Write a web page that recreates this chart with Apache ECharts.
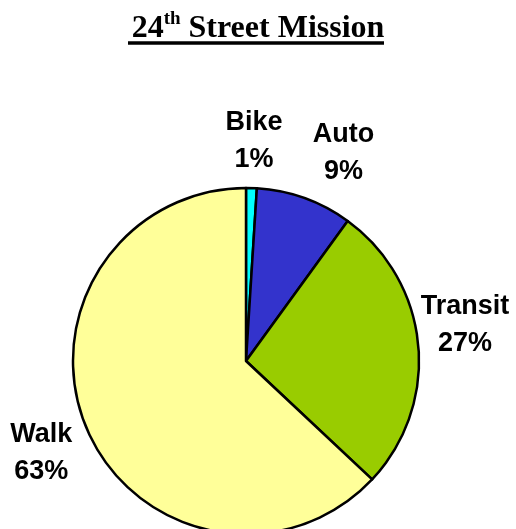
<!DOCTYPE html>
<html>
<head>
<meta charset="utf-8">
<script src="https://cdn.jsdelivr.net/npm/echarts@6/dist/echarts.min.js"></script>
<style>
  html, body { margin: 0; padding: 0; background: #fff; }
  #main { width: 516px; height: 529px; }
</style>
</head>
<body>
<div id="main"></div>
<script>
// mode share data
var modes = ['Bike', 'Auto', 'Transit', 'Walk'];
var shares = [1, 9, 27, 63];
var colors = ['#00FFFF', '#3333CC', '#99CC00', '#FFFF99'];

var chart = echarts.init(document.getElementById('main'));

var pieData = modes.map(function (m, i) {
  return { name: m, value: shares[i], itemStyle: { color: colors[i] } };
});

var option = {
  backgroundColor: '#fff',
  animation: false,
  title: {
    left: 'center',
    top: 5,
    text: '{a|24}{s|th}{a| Street Mission}',
    textStyle: {
      rich: {
        a: { fontFamily: 'Liberation Serif', fontWeight: 'bold', fontSize: 32, lineHeight: 38, color: '#000' },
        s: { fontFamily: 'Liberation Serif', fontWeight: 'bold', fontSize: 19, lineHeight: 22, verticalAlign: 'top', color: '#000' }
      }
    }
  },
  graphic: [
    {
      type: 'line',
      shape: { x1: 128, y1: 43, x2: 384, y2: 43 },
      style: { stroke: '#000', lineWidth: 3.5 }
    }
  ],
  series: [
    {
      // actual pie
      type: 'pie',
      center: [246, 361],
      radius: 173,
      startAngle: 90,
      clockwise: true,
      silent: true,
      label: { show: false },
      labelLine: { show: false },
      itemStyle: { borderColor: '#000', borderWidth: 2.5 },
      data: pieData
    },
    {
      // invisible ring just to carry labels around the pie
      type: 'pie',
      center: [246, 361],
      radius: [200, 240],
      startAngle: 90,
      clockwise: true,
      silent: true,
      itemStyle: { color: 'rgba(0,0,0,0)', borderWidth: 0 },
      label: {
        show: true,
        position: 'inside',
        formatter: '{b}\n{d}%',
        fontFamily: 'Liberation Sans',
        fontWeight: 'bold',
        fontSize: 27,
        lineHeight: 37,
        color: '#000',
        align: 'center'
      },
      labelLine: { show: false },
      labelLayout: function (params) {
        if (params.dataIndex === 0) return { dx: 1, dy: 3 };
        if (params.dataIndex === 1) return { dx: 22, dy: 2 };
        if (params.dataIndex === 2) return { dx: -3, dy: -15 };
        return { dy: 3 };
      },
      data: modes.map(function (m, i) { return { name: m, value: shares[i] }; })
    }
  ]
};

chart.setOption(option);
</script>
</body>
</html>
